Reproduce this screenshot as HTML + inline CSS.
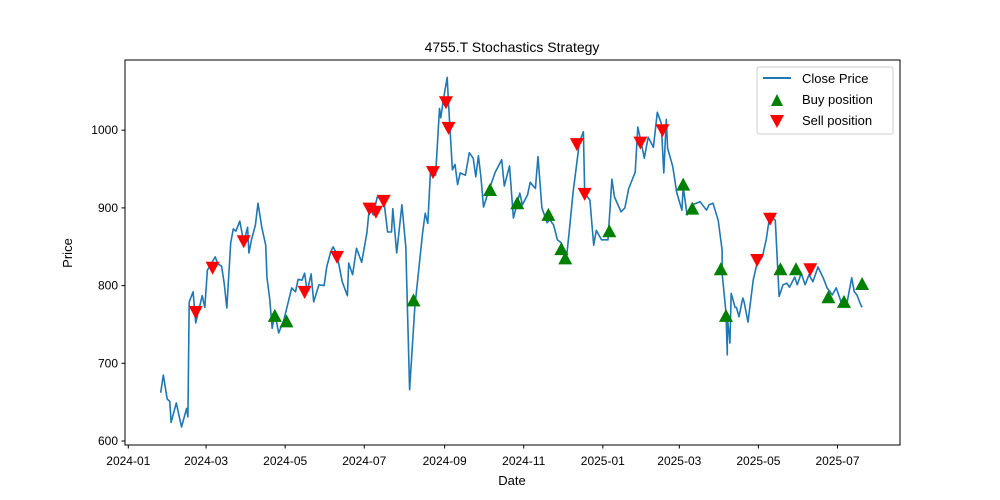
<!DOCTYPE html>
<html><head><meta charset="utf-8"><style>
body{margin:0;background:#fff;}
svg{display:block;font-family:"Liberation Sans","DejaVu Sans",sans-serif;}
</style></head><body>
<svg id="chart" width="1000" height="500" viewBox="0 0 1000 500" xmlns="http://www.w3.org/2000/svg">
<rect width="1000" height="500" fill="#fff"/>
<text x="512" y="52" font-size="14" text-anchor="middle">4755.T Stochastics Strategy</text>
<g id="plot"></g>
<rect x="125" y="60" width="775" height="385" fill="none" stroke="#000" stroke-width="1"/>
<text x="512" y="485" font-size="13" text-anchor="middle">Date</text>
<text x="72" y="253" font-size="13" text-anchor="middle" transform="rotate(-90 72 253)">Price</text>
<g>
<rect x="757" y="67" width="136" height="67" fill="#fff" stroke="#ccc" rx="2"/>
<line x1="763" y1="78" x2="791" y2="78" stroke="#1f77b4" stroke-width="2"/>
<text x="802" y="83" font-size="13">Close Price</text>
<polygon points="771,106 777,94 783,106" fill="green"/>
<text x="802" y="104" font-size="13">Buy position</text>
<polygon points="770,115 784,115 777,128" fill="red"/>
<text x="802" y="125" font-size="13">Sell position</text>
</g>
</svg>
<script>
const priceDays=[25,27,30,32,33,37,41,45,46,47,50,52,57,59,61,67,69,72,74,76,79,81,83,86,89,92,93,95,98,100,103,106,107,109,111,113,116,120,126,129,131,134,136,138,141,143,147,151,153,156,158,161,165,169,170,173,176,180,184,186,189,192,197,200,203,204,207,211,214,217,221,227,229,231,233,237,240,241,243,246,247,250,252,254,256,260,263,266,268,270,272,274,277,283,288,290,294,297,302,304,308,310,314,316,319,323,325,328,331,334,338,340,343,346,348,351,352,356,359,361,365,370,373,375,380,383,386,391,393,396,398,401,405,408,411,413,415,416,420,423,427,428,431,435,441,446,448,451,455,458,458,461,462,462,464,465,468,469,471,474,475,478,482,485,489,492,495,497,499,502,505,508,510,514,516,519,522,525,528,532,536,539,543,546,550,554,558,560,562,565,566];
const closePrices=[662,685,654,651,624,649,618,642,631,779,792,752,787,772,820,837,828,825,803,771,855,873,870,883,856,875,842,859,878,906,875,852,810,784,745,765,739,756,797,792,808,807,816,792,815,779,801,800,824,843,850,840,805,787,829,814,848,830,868,901,891,914,911,869,869,899,842,904,850,666,772,868,893,880,945,942,1028,1016,1039,1068,1035,949,956,930,945,942,971,964,940,967,940,901,917,946,962,928,954,887,919,904,917,933,925,966,900,881,885,878,859,855,836,868,919,959,985,998,919,910,852,871,859,859,937,914,895,900,925,946,1004,981,964,991,978,1023,1009,945,1014,977,953,920,897,927,891,904,908,897,904,906,884,846,816,765,711,760,726,790,772,772,760,784,779,753,807,829,837,859,893,887,884,786,801,803,798,811,801,816,801,814,805,824,810,797,788,797,778,775,810,792,788,775,772,801];
const buyDays=[113,122,220,279,300,324,334,337,371,428,435,457,461,503,515,540,552,566];
const buyPrices=[761,754,781,923,906,891,847,835,870,930,899,821,761,821,821,785,779,802];
const sellDays=[52,65,89,136,161,186,191,197,235,245,247,346,352,395,412,485,495,526];
const sellPrices=[766,823,857,792,837,899,895,909,946,1036,1003,982,918,984,1000,833,886,821];
const yTicks=[600,700,800,900,1000];
const xTickDays=[0,60,121,182,244,305,366,425,486,547];
const xTickLabels=["2024-01","2024-03","2024-05","2024-07","2024-09","2024-11","2025-01","2025-03","2025-05","2025-07"];

const xS=d=>128.3+d*1.2965;
const yS=v=>441-(v-600)*0.777;
const NS="http://www.w3.org/2000/svg";
const g=document.getElementById('plot');
function mk(tag,attrs){const e=document.createElementNS(NS,tag);for(const k in attrs)e.setAttribute(k,attrs[k]);g.appendChild(e);return e;}

yTicks.forEach(v=>{
  const t=mk('line',{x1:121.5,x2:125,y1:yS(v),y2:yS(v),stroke:'#000'});
  
  
  const l=mk('text',{x:118,y:yS(v)+4,'font-size':12,'text-anchor':'end'});
  l.textContent=v;
  
  
});
xTickDays.forEach((d,i)=>{
  const t=mk('line',{x1:xS(d),x2:xS(d),y1:445,y2:448.5,stroke:'#000'});
  
  
  const l=mk('text',{x:xS(d),y:465,'font-size':12,'text-anchor':'middle'});
  l.textContent=xTickLabels[i];
  
  
});
const pts=priceDays.map((d,i)=>xS(d).toFixed(1)+','+yS(closePrices[i]).toFixed(1)).join(' ');
const line=mk('polyline',{points:pts,fill:'none',stroke:'#1f77b4','stroke-width':1.6,'stroke-linejoin':'round'});


buyDays.forEach((d,i)=>{
  const x=xS(d),y=yS(buyPrices[i]);
  const p=mk('polygon',{points:`${x-7},${y+6} ${x},${y-7} ${x+7},${y+6}`,fill:'green'});
  
  
});
sellDays.forEach((d,i)=>{
  const x=xS(d),y=yS(sellPrices[i]);
  const p=mk('polygon',{points:`${x-7},${y-6} ${x+7},${y-6} ${x},${y+7}`,fill:'red'});
  
  
});
</script>
</body></html>
